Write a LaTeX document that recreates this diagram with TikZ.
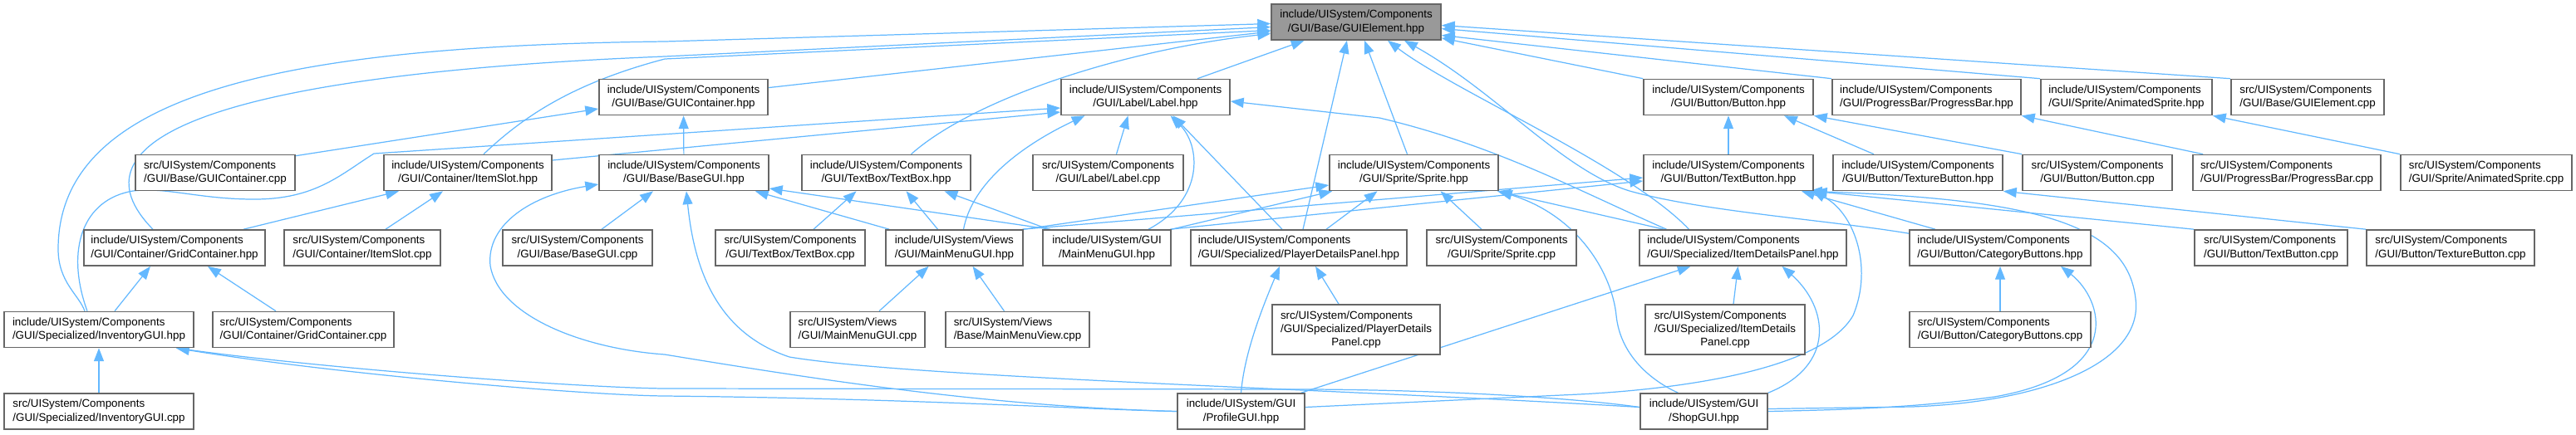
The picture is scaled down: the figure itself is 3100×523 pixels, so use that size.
\documentclass[tikz,border=0pt]{standalone}
\usepackage{fontspec}
\setmainfont{Liberation Sans}
\usepackage{xcolor}
\usepackage{tikz}
\usetikzlibrary{arrows.meta,calc,backgrounds}
\definecolor{edgeblue}{HTML}{63B8FF}
\definecolor{boxline}{HTML}{666666}
\definecolor{rootfill}{HTML}{999999}

% label: every line left aligned, the last one centred
\newcommand{\twoline}[2]{\vbox{\halign{##\hfil\cr#1\cr\hfil#2\cr}}}
\newcommand{\threeline}[3]{\vbox{\halign{##\hfil\cr#1\cr#2\cr\hfil#3\cr}}}

\begin{document}
\begin{tikzpicture}[x=0.01cm, y=-0.01cm,
  box/.style={draw=boxline, fill=white, line width=0.45pt, inner sep=0pt,
    minimum height=0.43cm, font=\fontsize{3.8pt}{4.65pt}\selectfont},
  rootbox/.style={box, fill=rootfill},
  dep/.style={draw=edgeblue, line width=0.35pt, {Triangle[length=4.5pt,width=3.4pt]}-}]
  \useasboundingbox (0,0) rectangle (3100,523);

  % Root header
  \node[rootbox, minimum width=2.04cm] (E) at (1632,26.5) {\twoline{include/UISystem/Components}{/GUI/Base/GUIElement.hpp}};

  % Row 1
  \node[box, minimum width=2.03cm] (GC) at (822.5,117) {\twoline{include/UISystem/Components}{/GUI/Base/GUIContainer.hpp}};
  \node[box, minimum width=2.03cm] (LB) at (1378.5,117) {\twoline{include/UISystem/Components}{/GUI/Label/Label.hpp}};
  \node[box, minimum width=2.04cm] (BT) at (2080,117) {\twoline{include/UISystem/Components}{/GUI/Button/Button.hpp}};
  \node[box, minimum width=2.27cm] (PB) at (2318.5,117) {\twoline{include/UISystem/Components}{/GUI/ProgressBar/ProgressBar.hpp}};
  \node[box, minimum width=2.06cm] (AS) at (2559,117) {\twoline{include/UISystem/Components}{/GUI/Sprite/AnimatedSprite.hpp}};
  \node[box, minimum width=1.84cm] (EC) at (2777,117) {\twoline{src/UISystem/Components}{/GUI/Base/GUIElement.cpp}};

  % Row 2
  \node[box, minimum width=1.92cm] (GCc) at (259,208) {\twoline{src/UISystem/Components}{/GUI/Base/GUIContainer.cpp}};
  \node[box, minimum width=2.02cm] (IS) at (563,208) {\twoline{include/UISystem/Components}{/GUI/Container/ItemSlot.hpp}};
  \node[box, minimum width=2.04cm] (BG) at (823,208) {\twoline{include/UISystem/Components}{/GUI/Base/BaseGUI.hpp}};
  \node[box, minimum width=2.03cm] (TB) at (1066.5,208) {\twoline{include/UISystem/Components}{/GUI/TextBox/TextBox.hpp}};
  \node[box, minimum width=1.81cm] (LBc) at (1333.5,208) {\twoline{src/UISystem/Components}{/GUI/Label/Label.cpp}};
  \node[box, minimum width=2.03cm] (SP) at (1701.5,208) {\twoline{include/UISystem/Components}{/GUI/Sprite/Sprite.hpp}};
  \node[box, minimum width=2.04cm] (TXB) at (2080,208) {\twoline{include/UISystem/Components}{/GUI/Button/TextButton.hpp}};
  \node[box, minimum width=2.04cm] (TRB) at (2308,208) {\twoline{include/UISystem/Components}{/GUI/Button/TextureButton.hpp}};
  \node[box, minimum width=1.80cm] (BTc) at (2524,208) {\twoline{src/UISystem/Components}{/GUI/Button/Button.cpp}};
  \node[box, minimum width=2.26cm] (PBc) at (2752,208) {\twoline{src/UISystem/Components}{/GUI/ProgressBar/ProgressBar.cpp}};
  \node[box, minimum width=2.06cm] (ASc) at (2992,208) {\twoline{src/UISystem/Components}{/GUI/Sprite/AnimatedSprite.cpp}};

  % Row 3
  \node[box, minimum width=2.18cm] (GR) at (210,298.5) {\twoline{include/UISystem/Components}{/GUI/Container/GridContainer.hpp}};
  \node[box, minimum width=1.88cm] (ISc) at (436,298.5) {\twoline{src/UISystem/Components}{/GUI/Container/ItemSlot.cpp}};
  \node[box, minimum width=1.80cm] (BGc) at (695,298.5) {\twoline{src/UISystem/Components}{/GUI/Base/BaseGUI.cpp}};
  \node[box, minimum width=1.80cm] (TBc) at (951,298.5) {\twoline{src/UISystem/Components}{/GUI/TextBox/TextBox.cpp}};
  \node[box, minimum width=1.65cm] (VM) at (1148.5,298.5) {\twoline{include/UISystem/Views}{/GUI/MainMenuGUI.hpp}};
  \node[box, minimum width=1.54cm] (GM) at (1332,298.5) {\twoline{include/UISystem/GUI}{/MainMenuGUI.hpp}};
  \node[box, minimum width=2.60cm] (PD) at (1563,298.5) {\twoline{include/UISystem/Components}{/GUI/Specialized/PlayerDetailsPanel.hpp}};
  \node[box, minimum width=1.80cm] (SPc) at (1807,298.5) {\twoline{src/UISystem/Components}{/GUI/Sprite/Sprite.cpp}};
  \node[box, minimum width=2.49cm] (ID) at (2097.5,298.5) {\twoline{include/UISystem/Components}{/GUI/Specialized/ItemDetailsPanel.hpp}};
  \node[box, minimum width=2.18cm] (CB) at (2407,298.5) {\twoline{include/UISystem/Components}{/GUI/Button/CategoryButtons.hpp}};
  \node[box, minimum width=1.84cm] (TXBc) at (2733,298.5) {\twoline{src/UISystem/Components}{/GUI/Button/TextButton.cpp}};
  \node[box, minimum width=2.02cm] (TRBc) at (2949,298.5) {\twoline{src/UISystem/Components}{/GUI/Button/TextureButton.cpp}};

  % Row 4
  \node[box, minimum width=2.28cm] (IG) at (119,397) {\twoline{include/UISystem/Components}{/GUI/Specialized/InventoryGUI.hpp}};
  \node[box, minimum width=2.18cm] (GRc) at (365,397) {\twoline{src/UISystem/Components}{/GUI/Container/GridContainer.cpp}};
  \node[box, minimum width=1.62cm] (VMc) at (1032,397) {\twoline{src/UISystem/Views}{/GUI/MainMenuGUI.cpp}};
  \node[box, minimum width=1.73cm] (MV) at (1224.5,397) {\twoline{src/UISystem/Views}{/Base/MainMenuView.cpp}};
  \node[box, minimum width=2.02cm, minimum height=0.60cm] (PDc) at (1632,397) {\threeline{src/UISystem/Components}{/GUI/Specialized/PlayerDetails}{Panel.cpp}};
  \node[box, minimum width=1.92cm, minimum height=0.60cm] (IDc) at (2076,397) {\threeline{src/UISystem/Components}{/GUI/Specialized/ItemDetails}{Panel.cpp}};
  \node[box, minimum width=2.18cm] (CBc) at (2407,397) {\twoline{src/UISystem/Components}{/GUI/Button/CategoryButtons.cpp}};

  % Row 5
  \node[box, minimum width=2.28cm] (IGc) at (119,495.5) {\twoline{src/UISystem/Components}{/GUI/Specialized/InventoryGUI.cpp}};
  \node[box, minimum width=1.53cm] (PG) at (1493.5,495.5) {\twoline{include/UISystem/GUI}{/ProfileGUI.hpp}};
  \node[box, minimum width=1.53cm] (SG) at (2050.5,495.5) {\twoline{include/UISystem/GUI}{/ShopGUI.hpp}};

  \begin{scope}[on background layer]
    % Into GUIElement.hpp
    \draw[dep] (E) -- (GC);
    \draw[dep] (E) -- (LB);
    \draw[dep] ($(E.south east)+(0,-3)$) -- (BT.north west);
    \draw[dep] ($(E.east)+(0,16)$) -- (PB.north west);
    \draw[dep] ($(E.east)+(0,8)$) -- (AS.north west);
    \draw[dep] ($(E.east)+(0,4)$) -- (EC.north west);
    \draw[dep] ($(E.west)+(0,10)$) -- (800,71) .. controls (690,100) and (630,140) .. ($(IS.north)+(19,0)$);
    \draw[dep] ($(E.west)+(0,14)$) .. controls (1350,60) and (1170,120) .. ($(TB.north)+(30,0)$);
    \draw[dep] ($(E.west)+(0,6)$) -- (800,68) .. controls (250,90) and (80,170) .. ($(GR.north)+(-26,0)$);
    \draw[dep] ($(E.west)+(0,2)$) -- (800,50) .. controls (350,55) and (70,110) .. (70,300) .. controls (70,340) and (95,355) .. ($(IG.north)+(-17,0)$);
    \draw[dep] ($(E.south)+(-11,0)$) -- ($(PD.north)+(5,0)$);
    \draw[dep] ($(E.south)+(10,0)$) -- ($(SP.north)+(-8,0)$);
    \draw[dep] ($(E.south)+(38,0)$) .. controls (1750,110) and (1960,200) .. ($(ID.north)+(-65,0)$);
    \draw[dep] ($(E.south)+(58,0)$) .. controls (1800,110) and (1880,205) .. (1961,230) .. controls (2050,255) and (2200,265) .. ($(CB.north west)+(0,5)$);

    % Containers
    \draw[dep] ($(GC.west)+(0,14)$) -- ($(GCc.north east)+(0,2)$);
    \draw[dep] (GC) -- (BG);
    \draw[dep] ($(IS.south)+(-83,0)$) -- ($(GR.north)+(83,0)$);
    \draw[dep] ($(IS.south)+(-30,0)$) -- ($(ISc.north)+(28,0)$);
    \draw[dep] ($(GR.south)+(-29,0)$) -- ($(IG.north)+(19,0)$);
    \draw[dep] ($(GR.south)+(40,0)$) -- ($(GRc.north)+(-33,0)$);
    \draw[dep] (IG) -- (IGc);
    \draw[dep] ($(IG.south)+(93,0)$) .. controls (400,450) and (700,476) .. (800,477) .. controls (1100,480) and (1300,493) .. (PG.west);
    \draw[dep] ($(IG.south)+(93,0)$) .. controls (400,445) and (700,467) .. (800,468) -- (1580,469) .. controls (1750,470) and (1900,480) .. ($(SG.west)+(0,-5)$);

    % BaseGUI and TextBox
    \draw[dep] ($(BG.south)+(-37,0)$) -- ($(BGc.north)+(29,0)$);
    \draw[dep] ($(BG.west)+(0,14)$) .. controls (640,235) and (585,270) .. (590,320) .. controls (600,380) and (700,420) .. (800,427) .. controls (1000,460) and (1200,490) .. (PG.west);
    \draw[dep] ($(BG.south)+(3,0)$) .. controls (835,320) and (860,400) .. (950,430) .. controls (1100,455) and (1600,468) .. ($(SG.west)+(0,-5)$);
    \draw[dep] ($(BG.south east)+(-17,0)$) -- ($(VM.north west)+(5,0)$);
    \draw[dep] ($(BG.east)+(0,19)$) -- ($(GM.north west)+(10,0)$);
    \draw[dep] ($(TB.south)+(-36,0)$) -- ($(TBc.north)+(28,0)$);
    \draw[dep] ($(TB.south)+(24,0)$) -- ($(VM.north)+(-20,0)$);
    \draw[dep] ($(TB.south)+(70,0)$) -- ($(GM.north)+(-70,0)$);

    % Label
    \draw[dep] ($(LB.west)+(0,13)$) -- (450,185) .. controls (410,210) and (380,240) .. (306,240) .. controls (240,240) and (200,225) .. (160,230) .. controls (100,240) and (78,300) .. ($(IG.north)+(-14,0)$);
    \draw[dep] ($(LB.west)+(0,18)$) -- ($(IS.east)+(0,-15)$);
    \draw[dep] ($(LB.south)+(-73,0)$) .. controls (1230,175) and (1170,220) .. ($(VM.north)+(11,0)$);
    \draw[dep] ($(LB.south)+(-21,0)$) -- ($(LBc.north)+(10,0)$);
    \draw[dep] ($(LB.south)+(30,0)$) .. controls (1445,175) and (1450,240) .. ($(GM.north)+(50,0)$);
    \draw[dep] ($(LB.south)+(33,0)$) -- ($(PD.north)+(-20,0)$);
    \draw[dep] ($(LB.east)+(0,5)$) -- (1660,142) .. controls (1800,175) and (1900,230) .. ($(ID.north)+(-92,0)$);

    % Sprite
    \draw[dep] ($(SP.south)+(-44,0)$) -- ($(PD.north)+(33,0)$);
    \draw[dep] ($(SP.west)+(0,15)$) -- (VM.north east);
    \draw[dep] ($(SP.south west)+(4,0)$) -- (GM.north east);
    \draw[dep] ($(SP.south)+(32,0)$) -- ($(SPc.north)+(-24,0)$);
    \draw[dep] ($(SP.south east)+(-2,0)$) -- ($(ID.north west)+(30,0)$);
    \draw[dep] (SP.south east) .. controls (1900,260) and (1940,330) .. (1945,380) .. controls (1950,430) and (1990,460) .. ($(SG.north)+(-31,0)$);

    % Buttons
    \draw[dep] (BT) -- (TXB);
    \draw[dep] ($(BT.south)+(67,0)$) -- ($(TRB.north)+(-53,0)$);
    \draw[dep] (BT.south east) -- (BTc.north west);
    \draw[dep] ($(TXB.west)+(0,6)$) -- ($(VM.north east)+(-2,0)$);
    \draw[dep] ($(TXB.west)+(0,10)$) -- ($(GM.north east)+(-2,0)$);
    \draw[dep] ($(TXB.south)+(88,0)$) -- ($(CB.north)+(-78,0)$);
    \draw[dep] (TXB.south east) -- (TXBc.north west);
    \draw[dep] ($(TXB.south)+(101,0)$) .. controls (2230,255) and (2255,320) .. (2230,380) .. controls (2190,450) and (2000,470) .. (1900,475) -- ($(PG.east)+(0,-5)$);
    \draw[dep] ($(TXB.south east)+(-6,0)$) .. controls (2450,240) and (2560,270) .. (2570,360) .. controls (2580,440) and (2450,485) .. (2300,490) -- ($(SG.east)+(0,-3)$);
    \draw[dep] (TRB.south east) -- (TRBc.north west);
    \draw[dep] (CB) -- (CBc);
    \draw[dep] ($(CB.south)+(73,0)$) .. controls (2530,360) and (2560,450) .. (2400,478) .. controls (2300,492) and (2200,494) .. (SG.east);

    % Progress bar and animated sprite
    \draw[dep] (PB.south east) -- ($(PBc.north west)+(13,0)$);
    \draw[dep] (AS.south east) -- (ASc.north west);

    % Panels and views
    \draw[dep] ($(ID.south)+(-6,0)$) -- ($(IDc.north)+(10,0)$);
    \draw[dep] ($(ID.south)+(-63,0)$) -- ($(PG.north east)+(-5,0)$);
    \draw[dep] ($(ID.south)+(47,0)$) .. controls (2200,370) and (2210,440) .. (SG.north east);
    \draw[dep] ($(PD.south)+(20,0)$) -- ($(PDc.north)+(-21,0)$);
    \draw[dep] ($(PD.south)+(-23,0)$) .. controls (1515,380) and (1497,430) .. (PG.north);
    \draw[dep] ($(VM.south)+(-31,0)$) -- ($(VMc.north)+(26,0)$);
    \draw[dep] ($(VM.south)+(22,0)$) -- ($(MV.north)+(-16,0)$);
  \end{scope}
\end{tikzpicture}
\end{document}
